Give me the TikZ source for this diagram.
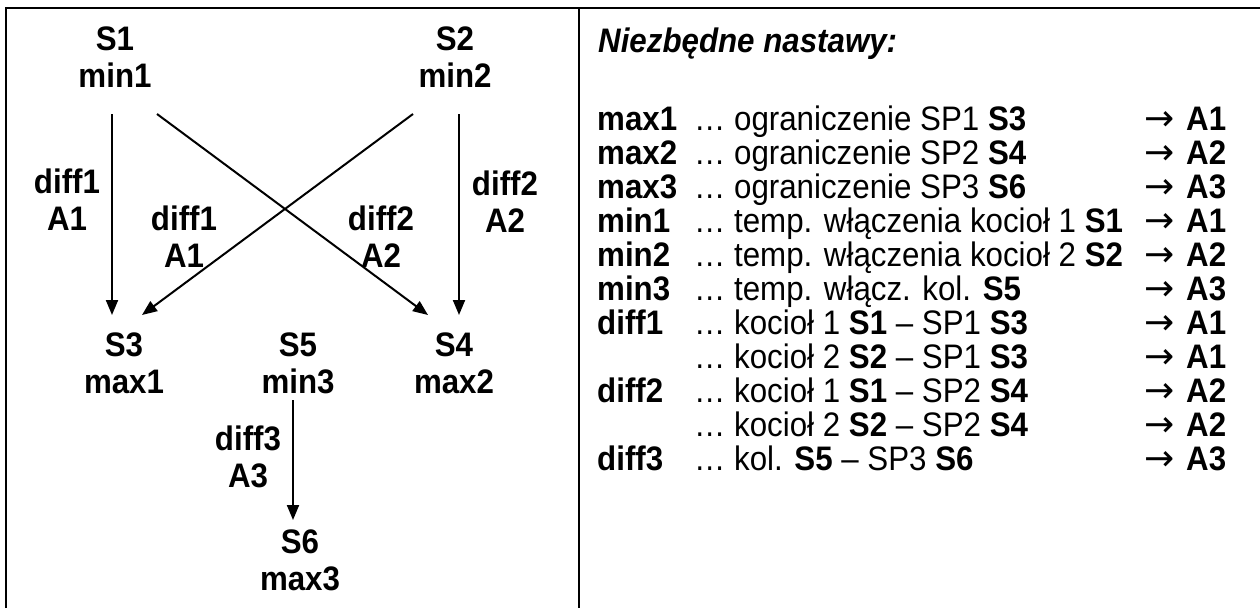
\documentclass[tikz,border=0pt]{standalone}
\usepackage{fontspec}
\setmainfont[FakeStretch=0.92]{Liberation Sans}
\newfontfamily\arrfont{DejaVu Sans}
\usetikzlibrary{arrows.meta}
\begin{document}
\begin{tikzpicture}[x=1pt,y=-1pt,
  lbl/.style={font=\fontsize{34}{37}\selectfont\bfseries, align=center, inner sep=0pt},
  arr/.style={line width=2pt, -{Triangle[length=15pt,width=12pt]}},
  frame/.style={line width=2pt},
  txt/.style={font=\fontsize{34}{34}\selectfont, anchor=base west, inner sep=0pt},
  btxt/.style={txt, font=\fontsize{34}{34}\selectfont\bfseries},
  atxt/.style={txt, font=\fontsize{36}{34}\arrfont}]
\useasboundingbox (0,0) rectangle (1260,608);
% frame
\draw[frame] (6,608) -- (6,8) -- (1260,8);
\draw[frame] (579,8) -- (579,608);
% sensor nodes
\node[lbl] (n1) at (115,57) {S1\\min1};
\node[lbl] (n2) at (455,57) {S2\\min2};
\node[lbl] (n3) at (124,363) {S3\\max1};
\node[lbl] (n5) at (298,363) {S5\\min3};
\node[lbl] (n4) at (454,363) {S4\\max2};
\node[lbl] (n6) at (300,560) {S6\\max3};
% labels
\node[lbl] (l1) at (67,200) {diff1\\A1};
\node[lbl] (l2) at (184,237) {diff1\\A1};
\node[lbl] (l3) at (381,237) {diff2\\A2};
\node[lbl] (l4) at (505,202) {diff2\\A2};
\node[lbl] (l5) at (248,457) {diff3\\A3};
% arrow end points
\coordinate (a1s) at (112,114); \coordinate (a1e) at (112,315);
\coordinate (a2s) at (157,114); \coordinate (a2e) at (428,315);
\coordinate (a3s) at (413,114); \coordinate (a3e) at (142,315);
\coordinate (a4s) at (459,114); \coordinate (a4e) at (459,315);
\coordinate (a5s) at (293,400); \coordinate (a5e) at (293,520);
\draw[arr] (a1s) -- (a1e);
\draw[arr] (a2s) -- (a2e);
\draw[arr] (a3s) -- (a3e);
\draw[arr] (a4s) -- (a4e);
\draw[arr] (a5s) -- (a5e);
% right text
\node[txt, font=\fontsize{34}{34}\selectfont\bfseries\itshape] (title) at (598,52) {Niezbędne nastawy:};
\foreach \i/\k/\t/\a in {
  1/max1/{ograniczenie SP1 \textbf{S3}}/A1,
  2/max2/{ograniczenie SP2 \textbf{S4}}/A2,
  3/max3/{ograniczenie SP3 \textbf{S6}}/A3,
  4/min1/{temp. włączenia kocioł 1 \textbf{S1}}/A1,
  5/min2/{temp. włączenia kocioł 2 \textbf{S2}}/A2,
  6/min3/{temp. włącz. kol. \textbf{S5}}/A3,
  7/diff1/{kocioł 1 \textbf{S1} – SP1 \textbf{S3}}/A1,
  8/{}/{kocioł 2 \textbf{S2} – SP1 \textbf{S3}}/A1,
  9/diff2/{kocioł 1 \textbf{S1} – SP2 \textbf{S4}}/A2,
  10/{}/{kocioł 2 \textbf{S2} – SP2 \textbf{S4}}/A2,
  11/diff3/{kol. \textbf{S5} – SP3 \textbf{S6}}/A3}{
  \pgfmathsetmacro{\yy}{130+34*(\i-1)}
  \node[btxt] (k\i) at (597,\yy) {\k};
  \node[txt] (t\i) at (694,\yy) {… \t};
  \node[atxt] (r\i) at (1144,\yy) {→};
  \node[btxt] (a\i) at (1186,\yy) {\a};
}
\end{tikzpicture}
\end{document}
